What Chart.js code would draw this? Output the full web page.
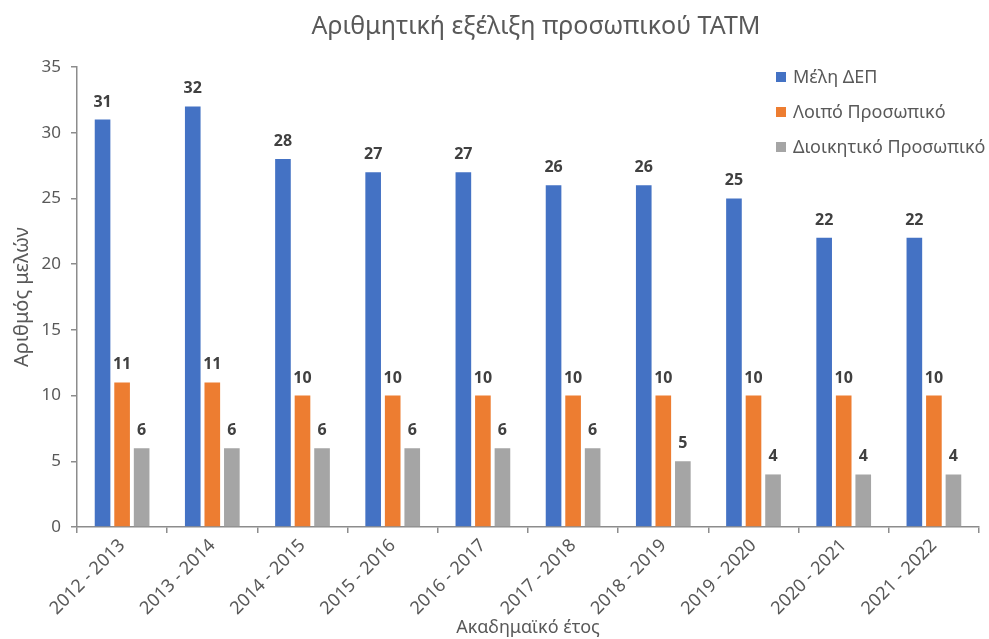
<!DOCTYPE html>
<html>
<head>
<meta charset="utf-8">
<script src="https://cdn.jsdelivr.net/npm/chart.js@4.4.1/dist/chart.umd.min.js"></script>
<style>
  html, body { margin: 0; padding: 0; background: #fff; }
</style>
</head>
<body>
<canvas id="staffChart" width="989" height="639"></canvas>
<script>
// --- Data ---
const years = ['2012 - 2013', '2013 - 2014', '2014 - 2015', '2015 - 2016', '2016 - 2017',
               '2017 - 2018', '2018 - 2019', '2019 - 2020', '2020 - 2021', '2021 - 2022'];
const depMembers = [31, 32, 28, 27, 27, 26, 26, 25, 22, 22];   // Μέλη ΔΕΠ
const otherStaff = [11, 11, 10, 10, 10, 10, 10, 10, 10, 10];   // Λοιπό Προσωπικό
const adminStaff = [6, 6, 6, 6, 6, 6, 5, 4, 4, 4];             // Διοικητικό Προσωπικό
const seriesNames = ['Μέλη ΔΕΠ', 'Λοιπό Προσωπικό', 'Διοικητικό Προσωπικό'];
const yTicks = [0, 5, 10, 15, 20, 25, 30, 35];

const FONT = '"Noto Sans", "Open Sans", sans-serif';
const TEXT = '#595959';
const AXIS = '#8c8c8c';

// bar value labels, chart title and a legend that sits over the plot area
const overlayPlugin = {
    id: 'overlay',
    afterDatasetsDraw(chart) {
        const ctx = chart.ctx;
        ctx.save();
        ctx.font = 'bold 16px ' + FONT;
        ctx.fillStyle = '#404040';
        ctx.textAlign = 'center';
        ctx.textBaseline = 'alphabetic';
        chart.data.datasets.forEach((ds, i) => {
            chart.getDatasetMeta(i).data.forEach((bar, j) => {
                ctx.fillText(ds.data[j], bar.x, bar.y - 13);
            });
        });
        ctx.restore();
    },
    afterDraw(chart) {
        const ctx = chart.ctx;
        ctx.save();
        // title
        ctx.font = '25px ' + FONT;
        ctx.fillStyle = TEXT;
        ctx.textAlign = 'center';
        ctx.textBaseline = 'middle';
        ctx.fillText('Αριθμητική εξέλιξη προσωπικού ΤΑΤΜ', 536, 27);

        // legend
        ctx.font = '18px ' + FONT;
        ctx.textAlign = 'left';
        chart.data.datasets.forEach((ds, i) => {
            const y = 77 + i * 35;
            ctx.fillStyle = ds.backgroundColor;
            ctx.fillRect(776, y - 5, 10, 10);
            ctx.fillStyle = TEXT;
            ctx.fillText(ds.label, 793, y + 1);
        });
        ctx.restore();
    }
};

new Chart(document.getElementById('staffChart'), {
    type: 'bar',
    data: {
        labels: years,
        datasets: [
            { label: seriesNames[0], data: depMembers, backgroundColor: '#4472C4' },
            { label: seriesNames[1], data: otherStaff, backgroundColor: '#ED7D31' },
            { label: seriesNames[2], data: adminStaff, backgroundColor: '#A5A5A5' }
        ]
    },
    options: {
        responsive: false,
        animation: false,
        devicePixelRatio: 1,
        categoryPercentage: 0.65,
        barPercentage: 0.8,
        layout: { padding: { top: 67, right: 10, bottom: 0, left: 0 } },
        plugins: {
            legend: { display: false },
            title: { display: false },
            tooltip: { enabled: false }
        },
        scales: {
            x: {
                grid: { display: true, drawOnChartArea: false, offset: true, tickLength: 6, color: AXIS, lineWidth: 1.5 },
                border: { color: AXIS, width: 1.5 },
                ticks: { color: TEXT, font: { family: FONT, size: 18 }, maxRotation: 45, minRotation: 45, padding: 2 },
                title: { display: true, text: 'Ακαδημαϊκό έτος', color: TEXT, font: { family: FONT, size: 18 }, padding: { top: 0, bottom: 0 } },
                afterFit: (scale) => { scale.height = 112; }
            },
            y: {
                min: 0,
                max: 35,
                afterBuildTicks: (scale) => { scale.ticks = yTicks.map(v => ({ value: v })); },
                grid: { display: true, drawOnChartArea: false, tickLength: 6, color: AXIS, lineWidth: 1.5 },
                border: { color: AXIS, width: 1.5 },
                ticks: { color: TEXT, font: { family: FONT, size: 17 }, padding: 10 },
                title: { display: true, text: 'Αριθμός μελών', color: TEXT, font: { family: FONT, size: 20 }, padding: { top: 10, bottom: 0 } },
                afterFit: (scale) => { scale.width = 77; }
            }
        }
    },
    plugins: [overlayPlugin]
});
</script>
</body>
</html>
